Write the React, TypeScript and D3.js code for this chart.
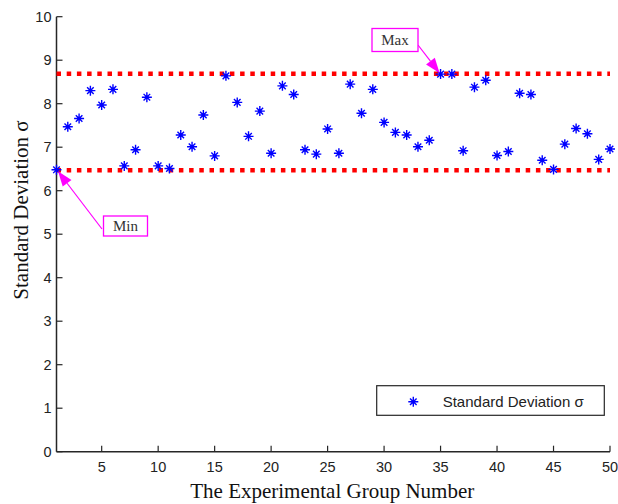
import React from "react";
import * as d3 from "d3";

const groups: number[] = d3.range(1, 51);
const sigmaValues: number[] = [
  6.48, 7.47, 7.66, 8.30, 7.97, 8.33, 6.57, 6.94, 8.15, 6.57,
  6.51, 7.28, 7.01, 7.74, 6.80, 8.64, 8.03, 7.25, 7.83, 6.86,
  8.41, 8.21, 6.94, 6.84, 7.42, 6.86, 8.45, 7.78, 8.33, 7.57,
  7.34, 7.28, 7.01, 7.16, 8.68, 8.68, 6.92, 8.38, 8.54, 6.81,
  6.90, 8.24, 8.21, 6.70, 6.49, 7.07, 7.43, 7.31, 6.72, 6.96,
];
const xTicks: number[] = [5, 10, 15, 20, 25, 30, 35, 40, 45, 50];
const yTicks: number[] = [0, 1, 2, 3, 4, 5, 6, 7, 8, 9, 10];
const maxLine = 8.69;
const minLine = 6.47;
const legendLabel = "Standard Deviation σ";
const xLabel = "The Experimental Group Number";
const yLabel = "Standard Deviation σ";

const W = 618;
const H = 504;
const left = 56.5;
const right = 610;
const top = 16.7;
const bottom = 451.7;

const starPath = "M-5,0H5M0,-5V5M-3.3,-3.3L3.3,3.3M-3.3,3.3L3.3,-3.3";

export default function App() {
  const x = d3.scaleLinear().domain([1, 50]).range([left, right]);
  const y = d3.scaleLinear().domain([0, 10]).range([bottom, top]);
  const axisColor = "#262626";
  const tickFont = "'Liberation Sans', Arial, sans-serif";
  const serif = "'Liberation Serif', 'Times New Roman', serif";
  const magenta = "#ff00ff";

  const maxIdx = sigmaValues.indexOf(d3.max(sigmaValues) as number);
  const minIdx = sigmaValues.indexOf(d3.min(sigmaValues) as number);

  const arrow = (x1: number, y1: number, x2: number, y2: number) => {
    const ang = Math.atan2(y2 - y1, x2 - x1);
    const len = 15;
    const half = 5.5;
    const bx = x2 - len * Math.cos(ang);
    const by = y2 - len * Math.sin(ang);
    const px = -Math.sin(ang) * half;
    const py = Math.cos(ang) * half;
    const head = `M${x2},${y2}L${bx + px},${by + py}L${bx - px},${by - py}Z`;
    return (
      <g>
        <line x1={x1} y1={y1} x2={bx} y2={by} stroke={magenta} strokeWidth={1.2} />
        <path d={head} fill={magenta} />
      </g>
    );
  };

  return (
    <svg width={W} height={H} style={{ position: "absolute", left: 0, top: 0, background: "#fff" }}>
      <line x1={left} y1={bottom} x2={right} y2={bottom} stroke={axisColor} strokeWidth={1.5} />
      <line x1={left} y1={bottom} x2={left} y2={top} stroke={axisColor} strokeWidth={1.5} />
      {xTicks.map((t) => (
        <g key={"xt" + t}>
          <line x1={x(t)} x2={x(t)} y1={bottom} y2={bottom - 6} stroke={axisColor} strokeWidth={1.2} />
          <text x={x(t)} y={bottom + 20} textAnchor="middle" fontFamily={tickFont} fontSize={14.5} fill="#222">
            {t}
          </text>
        </g>
      ))}
      {yTicks.map((t) => (
        <g key={"yt" + t}>
          <line x1={left} x2={left + 6} y1={y(t)} y2={y(t)} stroke={axisColor} strokeWidth={1.2} />
          <text x={left - 5} y={y(t) + 5} textAnchor="end" fontFamily={tickFont} fontSize={14.5} fill="#222">
            {t}
          </text>
        </g>
      ))}
      <line x1={x(1)} x2={right} y1={y(maxLine)} y2={y(maxLine)} stroke="#ff0000" strokeWidth={4.5} strokeDasharray="4.5,5.7" />
      <line x1={x(1)} x2={right} y1={y(minLine)} y2={y(minLine)} stroke="#ff0000" strokeWidth={4.5} strokeDasharray="4.5,5.7" />
      {sigmaValues.map((v, i) => (
        <g key={"p" + i} transform={`translate(${x(groups[i])},${y(v)})`}>
          <path d={starPath} stroke="#0000ff" strokeWidth={1.4} fill="none" />
          <circle r={1.8} fill="#0000ff" />
        </g>
      ))}
      {arrow(418, 45, x(groups[maxIdx]) - 1, y(sigmaValues[maxIdx]) - 1)}
      <rect x={372} y={28.5} width={46} height={23} fill="#fff" stroke={magenta} strokeWidth={1.3} />
      <text x={395} y={45} textAnchor="middle" fontFamily={serif} fontSize={15} fill="#333">Max</text>
      {arrow(102, 229, x(groups[minIdx]) + 1.5, y(sigmaValues[minIdx]) + 1.5)}
      <rect x={103.5} y={216} width={44} height={20} fill="#fff" stroke={magenta} strokeWidth={1.3} />
      <text x={125.5} y={231} textAnchor="middle" fontFamily={serif} fontSize={15} fill="#333">Min</text>
      <rect x={376.7} y={385.7} width={227.6} height={29.6} fill="#fff" stroke={axisColor} strokeWidth={1.2} />
      <g transform="translate(413.3,401.7)">
        <path d={starPath} stroke="#0000ff" strokeWidth={1.4} fill="none" />
        <circle r={1.8} fill="#0000ff" />
      </g>
      <text x={442.7} y={407} fontFamily={tickFont} fontSize={15} fill="#222">{legendLabel}</text>
      <text x={(left + right) / 2 - 1} y={498} textAnchor="middle" fontFamily={serif} fontSize={21} fill="#111">
        {xLabel}
      </text>
      <text transform="translate(28,210) rotate(-90)" textAnchor="middle" fontFamily={serif} fontSize={21} fill="#111">
        {yLabel}
      </text>
    </svg>
  );
}
